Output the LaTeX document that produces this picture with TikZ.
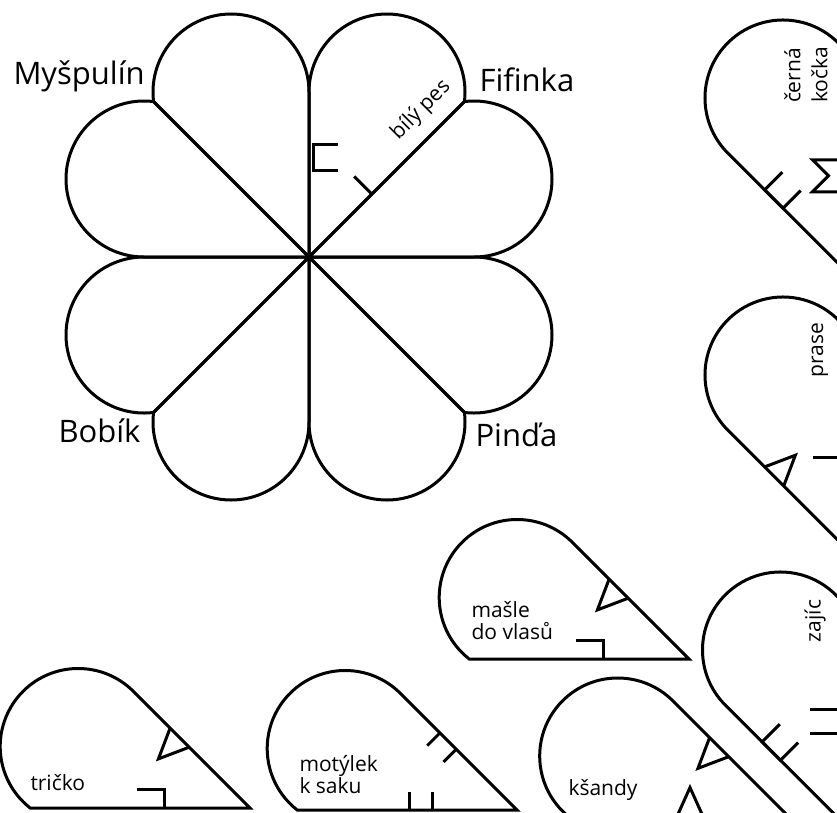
\documentclass[tikz,border=0pt]{standalone}
\usepackage{fontspec}
\setmainfont{Open Sans}
\newcommand\drawpetal{\draw (0,0) -- (116.67,116.67) arc[start angle=135,end angle=-52.07,radius=78] -- cycle;}
\newcommand\marktri{\draw (86,0) -- (99.5,30) -- (113,0);}
\newcommand\markflag{\draw (113,19) -- (86,19) -- (86,0);}
\newcommand\markbrk[1]{\draw (87,#1+25) -- (87,#1) -- (113,#1) -- (113,#1+25);}
\newcommand\marktick[2]{\draw (#1,0) -- (#1,#2);}
\newcommand\marksigma{\draw (110,0) -- (110,32) -- (94,16) -- (78,32) -- (78,0);}
\begin{document}
\begin{tikzpicture}[x=1pt,y=1pt,line width=3pt,
  biglabel/.style={font=\fontsize{31}{37}\selectfont, inner sep=0pt},
  smalllabel/.style={font=\fontsize{21}{22}\selectfont, inner sep=0pt, align=left},
  tanedge/.style={rotate=45,yscale=-1}]
\useasboundingbox (0,0) rectangle (837,-812);
\clip (0,0) rectangle (837,-812);

% flower
\begin{scope}[shift={(309,-257)}]
  \foreach \a in {45,135,225,315} {
    \begin{scope}[rotate=\a] \drawpetal \end{scope}
    \begin{scope}[rotate=\a,yscale=-1] \drawpetal \end{scope}
  }
  \begin{scope}[rotate=45]
    \begin{scope}[tanedge] \markbrk{4} \end{scope}
    \marktick{89}{25}
  \end{scope}
\end{scope}
\node[biglabel,anchor=base west] (myspulin) at (12,-84.5) {Myšpulín};
\node[biglabel,anchor=base west] (fifinka) at (478,-91) {Fifinka};
\node[biglabel,anchor=base west] (bobik) at (57,-442) {Bobík};
\node[biglabel,anchor=base west] (pinda) at (474,-446) {Pinďa};
\node[smalllabel,rotate=45] (bilypes) at (421,-110) {bílý pes};

% černá kočka
\begin{scope}[shift={(844.5,-269.8)},rotate=90]
  \drawpetal
  \begin{scope}[tanedge] \markbrk{0} \end{scope}
  \marksigma
\end{scope}
\node[smalllabel,rotate=90,font=\fontsize{21}{27}\selectfont] (kocka) at (806,-75) {černá\\kočka};

% prase
\begin{scope}[shift={(844.5,-546.8)},rotate=90]
  \drawpetal
  \begin{scope}[tanedge] \marktri \end{scope}
  \marktick{89}{32}
\end{scope}
\node[smalllabel,rotate=90] (prase) at (820,-350) {prase};

% zajíc
\begin{scope}[shift={(842,-821.8)},rotate=90]
  \drawpetal
  \begin{scope}[tanedge] \markbrk{0} \end{scope}
  \marktick{88.8}{32}
  \marktick{112.8}{32}
\end{scope}
\node[smalllabel,rotate=90] (zajic) at (815,-621) {zajíc};

% mašle do vlasů
\begin{scope}[shift={(689,-659)},xscale=-1]
  \drawpetal
  \begin{scope}[tanedge] \marktri \end{scope}
  \markflag
\end{scope}
\node[smalllabel,anchor=north west] (masle) at (470,-600) {mašle\\do vlasů};

% tričko
\begin{scope}[shift={(250,-808)},xscale=-1]
  \drawpetal
  \begin{scope}[tanedge] \marktri \end{scope}
  \markflag
\end{scope}
\node[smalllabel,anchor=base west] (tricko) at (29,-790) {tričko};

% motýlek k saku
\begin{scope}[shift={(517,-810)},xscale=-1]
  \drawpetal
  \begin{scope}[tanedge] \marktick{86}{18} \marktick{109}{18} \end{scope}
  \marktick{85}{18} \marktick{108}{18}
\end{scope}
\node[smalllabel,anchor=north west] (motylek) at (298,-754) {motýlek\\k saku};

% kšandy
\begin{scope}[shift={(789.5,-817.5)},xscale=-1]
  \drawpetal
  \begin{scope}[tanedge] \marktri \end{scope}
  \marktri
\end{scope}
\node[smalllabel,anchor=base west] (ksandy) at (567,-795) {kšandy};
\end{tikzpicture}
\end{document}
